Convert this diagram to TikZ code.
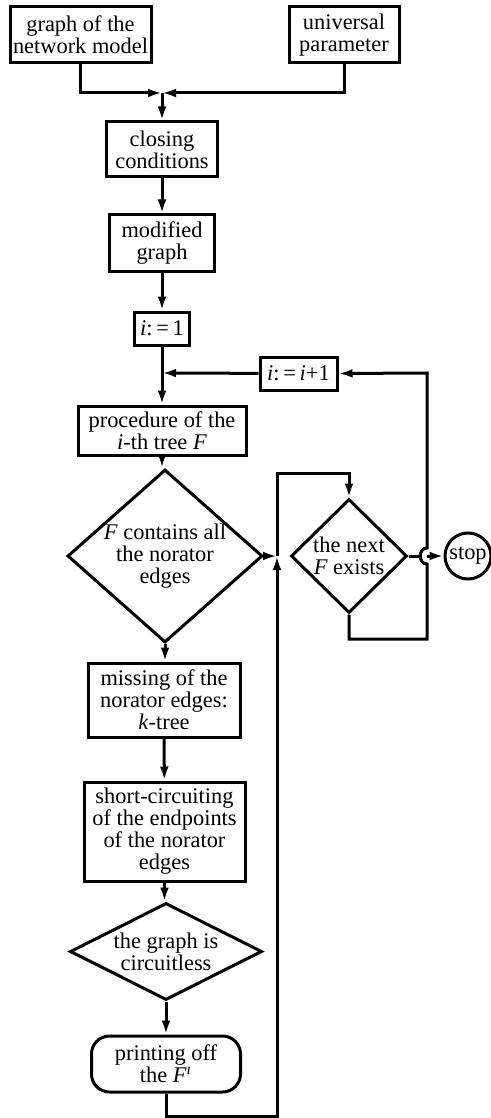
\documentclass[tikz,border=0pt]{standalone}
\usepackage{fontspec}
\setmainfont{Liberation Serif}
\usetikzlibrary{arrows.meta,shapes.geometric}
\begin{document}
\begin{tikzpicture}[x=0.5pt,y=-0.5pt,
  every node/.style={font=\fontsize{11.2}{11}\selectfont},
  box/.style={draw,line width=1.5pt,align=center,inner sep=0pt},
  dia/.style={draw,diamond,line width=1.5pt,align=center,inner sep=0pt},
  conn/.style={line width=1.5pt},
  arr/.style={conn,-{Latex[length=7pt,width=4.4pt]}}]
\useasboundingbox (0,0) rectangle (491,1118);
% nodes
\node[box,minimum width=70.5pt,minimum height=28pt] (gnm) at (80.5,35) {graph of the\\network model};
\node[box,minimum width=55pt,minimum height=28pt] (up) at (344,35) {universal\\parameter};
\node[box,minimum width=55.5pt,minimum height=27.5pt] (cc) at (162,149.5) {closing\\conditions};
\node[box,minimum width=52.5pt,minimum height=28pt] (mg) at (162,243) {modified\\graph};
\node[box,minimum width=27.5pt,minimum height=16.5pt] (i1) at (162,328.5) {\textit{i}:\,=\,1};
\node[box,minimum width=38.5pt,minimum height=16.5pt] (ii) at (298.5,373.5) {\textit{i}:\,=\,\textit{i}+1};
\node[box,minimum width=84pt,minimum height=24.5pt] (proc) at (162,430.5) {procedure of the\\\textit{i}-th tree \textit{F}};
\node[dia,minimum width=97.5pt,minimum height=86.5pt,shape aspect=1.13] (d1) at (165,556) {\textit{F} contains all\\the norator\\edges};
\node[dia,minimum width=58pt,minimum height=57pt,shape aspect=1.02] (d2) at (349,556) {the next\\\textit{F} exists};
\node[draw,circle,line width=1.5pt,minimum size=23pt,inner sep=0pt] (stop) at (468,556) {stop};
\node[box,minimum width=76pt,minimum height=37pt] (miss) at (164,700) {missing of the\\norator edges:\\\textit{k}-tree};
\node[box,minimum width=80.5pt,minimum height=49.5pt] (short) at (164.5,831.5) {short-circuiting\\of the endpoints\\of the norator\\edges};
\node[dia,minimum width=96pt,minimum height=48.5pt,shape aspect=1.98] (d3) at (166,951.5) {the graph is\\circuitless};
\node[box,rounded corners=9pt,minimum width=74.5pt,minimum height=28pt] (pr) at (166,1064) {printing off\\the \textit{F}\textsuperscript{\textit{ı}}};
% coordinates
\coordinate (m) at (162,93);
\coordinate (j1) at (162,373);
\coordinate (J) at (277,556);
\coordinate (t1) at (277,473);
\coordinate (t2) at (349,473);
\coordinate (b1) at (349,639);
\coordinate (b2) at (427,639);
\coordinate (h1) at (427,564);
\coordinate (h2) at (427,548);
\coordinate (h0) at (419,556);
\coordinate (h3) at (427,556);
\coordinate (r1) at (427,373);
\coordinate (p1) at (166,1116);
\coordinate (p2) at (277,1116);
% connectors
\draw[arr] (gnm.south) |- (m);
\draw[arr] (up.south) |- (m);
\draw[arr] (m) -- (cc.north);
\draw[arr] (cc) -- (mg);
\draw[arr] (mg) -- (i1);
\draw[arr] (i1) -- (proc);
\draw[arr] (ii) -- (j1);
\draw[arr] (proc.south) -- (proc.south |- d1.north);
\draw[arr] (d1.east) -- (J);
\draw[arr] (J) -- (t1) -- (t2) -- (d2.north);
\draw[arr] (d2.south) -- (b1) -- (b2) -- (h1) .. controls (418,564) and (418,548) .. (h2) -- (r1) -- (ii.east);
\draw[conn] (d2.east) -- (h0);
\draw[arr] (h3) -- (stop);
\draw[arr] (d1.south) -- (d1.south |- miss.north);
\draw[arr] (miss) -- (short);
\draw[arr] (short.south) -- (short.south |- d3.north);
\draw[arr] (d3) -- (pr);
\draw[arr] (pr.south) -- (p1) -- (p2) -- (J);
\end{tikzpicture}
\end{document}
